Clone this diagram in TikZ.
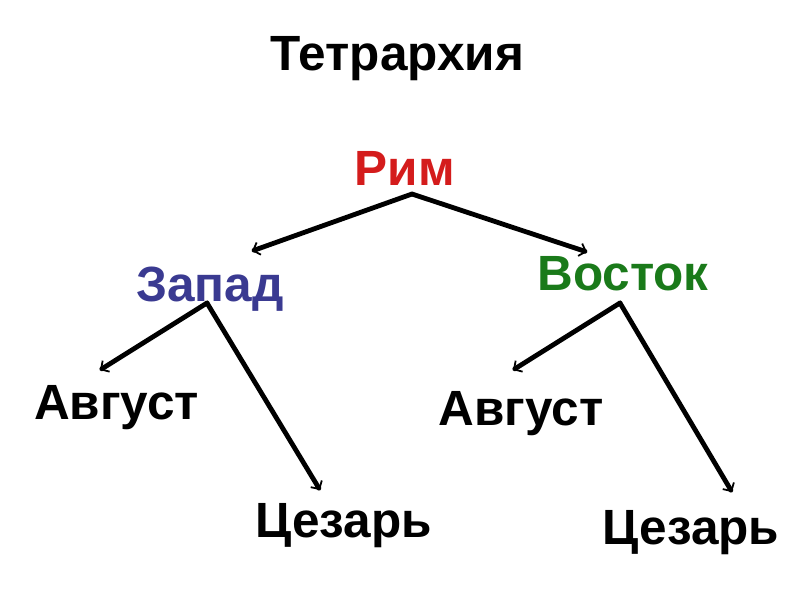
\documentclass[tikz,border=0pt]{standalone}
\usepackage{fontspec}
\setmainfont{Liberation Sans}
\usetikzlibrary{arrows.meta}
\definecolor{romred}{RGB}{212,28,28}
\definecolor{westblue}{RGB}{58,58,145}
\definecolor{eastgreen}{RGB}{26,122,26}
\begin{document}
\begin{tikzpicture}[x=1pt,y=-1pt,
  lbl/.style={font=\fontsize{49.5}{58}\selectfont\bfseries, inner sep=0pt, anchor=base},
  conn/.style={line width=4.8pt, line cap=round, -{Straight Barb[length=6pt,width=13pt,line width=1.8pt]}}]
\useasboundingbox (0,0) rectangle (807,605);
\node[lbl] (title) at (397.5,70) {Тетрархия};
\node[lbl, text=romred] (rim) at (405,185) {Рим};
\node[lbl, text=westblue] (west) at (210,301) {Запад};
\node[lbl, text=eastgreen] (east) at (623,290) {Восток};
\node[lbl] (augw) at (116.5,419) {Август};
\node[lbl] (auge) at (521,425) {Август};
\node[lbl] (caesw) at (343.5,537) {Цезарь};
\node[lbl] (caese) at (691,544) {Цезарь};
\coordinate (rimo) at (412,194);
\coordinate (westo) at (207,303);
\coordinate (easto) at (620,303);
\coordinate (westin) at (252,251);
\coordinate (eastin) at (587,252);
\coordinate (augwin) at (100,370);
\coordinate (caeswin) at (320,490);
\coordinate (augein) at (513,370);
\coordinate (caesein) at (732,492);
\draw[conn] (rimo) -- (westin);
\draw[conn] (rimo) -- (eastin);
\draw[conn] (westo) -- (augwin);
\draw[conn] (westo) -- (caeswin);
\draw[conn] (easto) -- (augein);
\draw[conn] (easto) -- (caesein);
\end{tikzpicture}
\end{document}
